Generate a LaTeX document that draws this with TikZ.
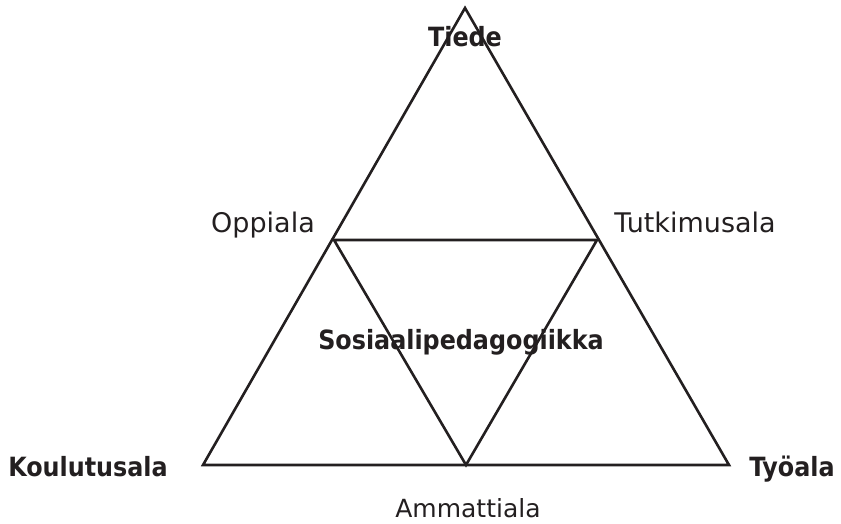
\documentclass[tikz,border=0pt]{standalone}
\usepackage{fontspec}
\setmainfont{DejaVu Sans Condensed}
\newfontfamily\widesans{DejaVu Sans}
\definecolor{ink}{HTML}{231F20}
\begin{document}
\begin{tikzpicture}[x=1pt,y=1pt,
  edge/.style={draw=ink,line width=2.6pt,line join=miter},
  lbl/.style={anchor=base,text=ink,inner sep=0pt,font=\widesans\fontsize{27}{30}\selectfont},
  blbl/.style={anchor=base,text=ink,inner sep=0pt,font=\fontsize{26.5}{30}\selectfont\bfseries}]
\useasboundingbox (0,0) rectangle (841,524);
\coordinate (T) at (465,516);
\coordinate (L) at (203,59);
\coordinate (R) at (729,59);
\coordinate (ML) at (334,284);
\coordinate (MR) at (597,284);
\coordinate (MB) at (466,59);
\draw[edge] (T) -- (R) -- (L) -- cycle;
\draw[edge] (ML) -- (MR) -- (MB) -- cycle;
\node[blbl] (tiede) at (465,477) {Tiede};
\node[lbl] (oppiala) at (263,291) {Oppiala};
\node[lbl] (tutk) at (695,291) {Tutkimusala};
\node[blbl] (sos) at (461,174) {Sosiaalipedagogiikka};
\node[blbl] (koul) at (88,47) {Koulutusala};
\node[blbl] (tyo) at (792,47) {Työala};
\node[lbl,font=\widesans\fontsize{25}{30}\selectfont] (amm) at (468,6) {Ammattiala};
\end{tikzpicture}
\end{document}
